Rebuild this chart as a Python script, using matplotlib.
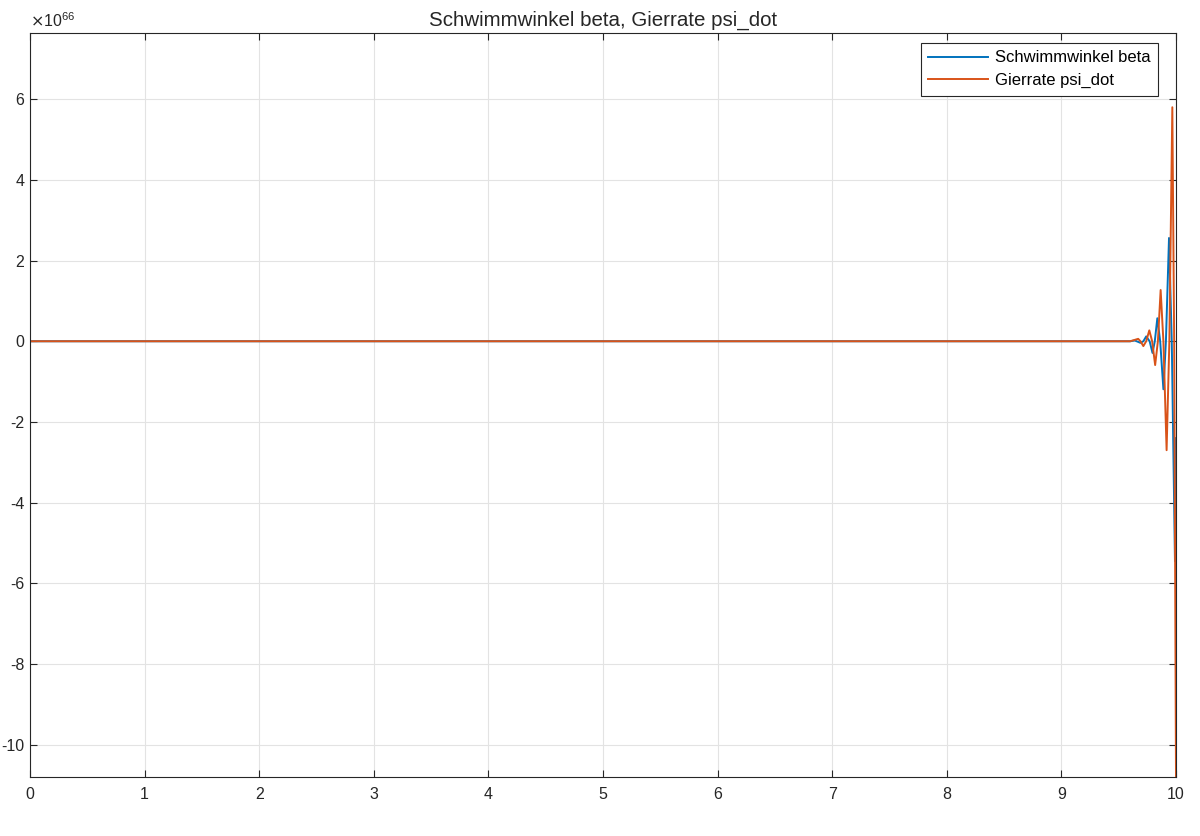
import matplotlib
matplotlib.use("Agg")
import matplotlib.pyplot as plt

plt.rcParams['font.family'] = ['Liberation Sans', 'DejaVu Sans']
plt.rcParams['axes.unicode_minus'] = False

# values in units of 1e66
t_beta = [0, 9.6, 9.64, 9.69, 9.715, 9.74, 9.77, 9.795, 9.815, 9.837, 9.862,
          9.89, 9.912, 9.939, 9.963, 9.991, 10.0]
beta = [0, 0, 0.02, -0.04, 0, 0.12, 0, -0.29, 0, 0.57, 0,
        -1.19, 0, 2.56, 0, -5.45, -2.4]

t_psi = [0, 9.6, 9.67, 9.69, 9.715, 9.74, 9.767, 9.792, 9.818, 9.842, 9.866,
         9.89, 9.918, 9.942, 9.968, 9.984, 10.0]
psi_dot = [0, 0, 0.06, 0, -0.12, 0, 0.27, 0, -0.59, 0, 1.27,
           0, -2.7, 0, 5.8, 0, -10.8]

x_ticks = list(range(0, 11))
y_ticks = [-10, -8, -6, -4, -2, 0, 2, 4, 6]

fig = plt.figure(figsize=(12, 8.36), dpi=100)
ax = fig.add_axes([0.025, 0.0706, 0.955, 0.8899])

ax.plot(t_beta, beta, color='#0072BD', lw=1.4, label='Schwimmwinkel beta')
ax.plot(t_psi, psi_dot, color='#D95319', lw=1.4, label='Gierrate psi_dot')

ax.set_xlim(0, 10)
ax.set_ylim(-10.8, 7.64)
ax.set_xticks(x_ticks)
ax.set_yticks(y_ticks)
ax.set_xticklabels([str(x) for x in x_ticks])
ax.set_yticklabels([str(y) for y in y_ticks])

ax.text(0, 1.004, r'$\times\mathdefault{10^{66}}$', transform=ax.transAxes,
        fontsize=11.5, color='#262626', ha='left', va='bottom')

ax.grid(True, color='#e3e3e3', lw=0.8)
ax.set_axisbelow(True)
ax.tick_params(direction='in', top=True, right=True, labelsize=11.5,
               colors='#262626', length=5, width=0.8)
ax.tick_params(axis='x', pad=7)
ax.tick_params(axis='y', pad=4)
for s in ax.spines.values():
    s.set_color('#262626')
    s.set_linewidth(0.8)

ax.set_title('Schwimmwinkel beta, Gierrate psi_dot', fontsize=14.8,
             color='#262626', pad=5)

leg = ax.legend(loc='upper right', bbox_to_anchor=(0.9843, 0.9866),
                borderaxespad=0, fontsize=12, fancybox=False,
                framealpha=1, edgecolor='#262626',
                handlelength=3.6, handletextpad=0.4, borderpad=0.45,
                labelspacing=0.45)
leg.get_frame().set_linewidth(0.8)

fig.savefig('out.png', dpi=100)
